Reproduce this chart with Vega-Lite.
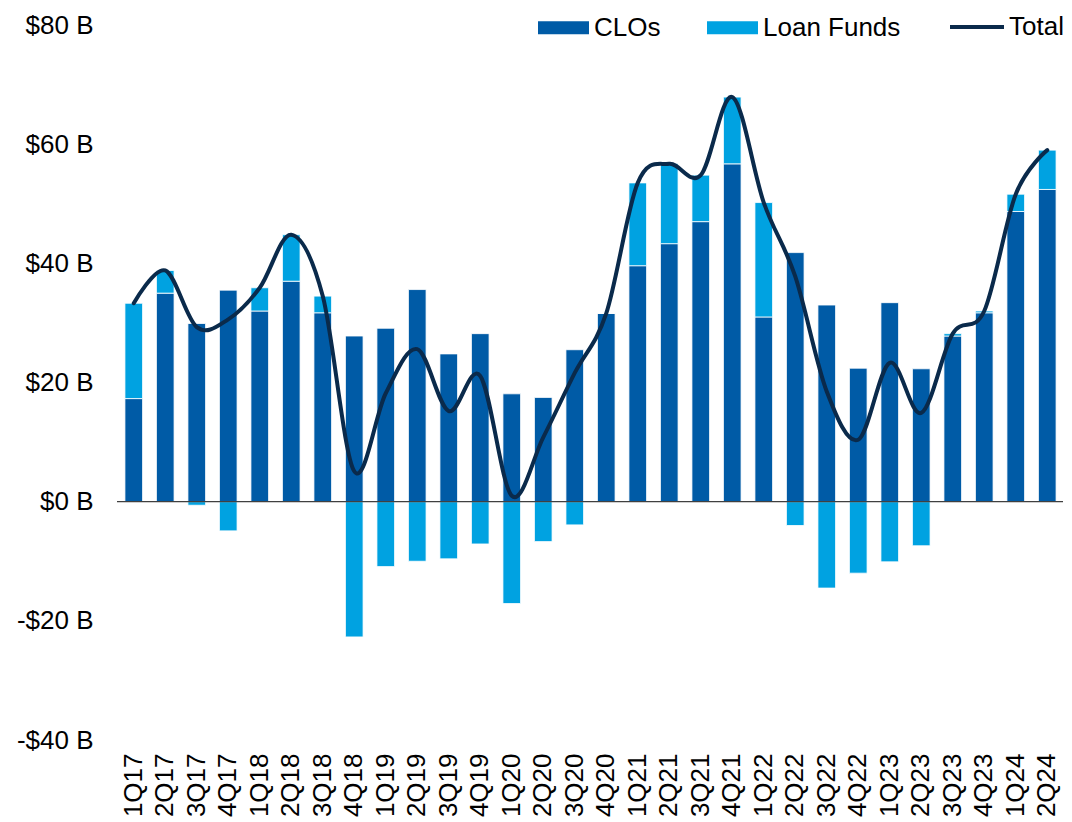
{
  "$schema": "https://vega.github.io/schema/vega-lite/v6.json",
  "width": 945,
  "height": 715,
  "autosize": {"type": "none"},
  "padding": {"left": 118, "top": 25, "right": 9, "bottom": 82},
  "background": "white",
  "config": {
    "view": {"stroke": null},
    "font": "Liberation Sans",
    "axis": {"labelFont": "Liberation Sans", "labelColor": "#000000", "labelFontSize": 26},
    "legend": {"labelFont": "Liberation Sans", "labelColor": "#000000", "labelFontSize": 26}
  },
  "datasets": {
    "bars": [
      {"q": "1Q17", "series": "CLOs", "value": 17.3}, {"q": "1Q17", "series": "Loan Funds", "value": 16.0},
      {"q": "2Q17", "series": "CLOs", "value": 35.0}, {"q": "2Q17", "series": "Loan Funds", "value": 3.8},
      {"q": "3Q17", "series": "CLOs", "value": 29.9}, {"q": "3Q17", "series": "Loan Funds", "value": -0.6},
      {"q": "4Q17", "series": "CLOs", "value": 35.5}, {"q": "4Q17", "series": "Loan Funds", "value": -4.9},
      {"q": "1Q18", "series": "CLOs", "value": 32.0}, {"q": "1Q18", "series": "Loan Funds", "value": 3.9},
      {"q": "2Q18", "series": "CLOs", "value": 37.0}, {"q": "2Q18", "series": "Loan Funds", "value": 7.8},
      {"q": "3Q18", "series": "CLOs", "value": 31.7}, {"q": "3Q18", "series": "Loan Funds", "value": 2.8},
      {"q": "4Q18", "series": "CLOs", "value": 27.8}, {"q": "4Q18", "series": "Loan Funds", "value": -22.7},
      {"q": "1Q19", "series": "CLOs", "value": 29.1}, {"q": "1Q19", "series": "Loan Funds", "value": -10.9},
      {"q": "2Q19", "series": "CLOs", "value": 35.6}, {"q": "2Q19", "series": "Loan Funds", "value": -10.0},
      {"q": "3Q19", "series": "CLOs", "value": 24.8}, {"q": "3Q19", "series": "Loan Funds", "value": -9.6},
      {"q": "4Q19", "series": "CLOs", "value": 28.2}, {"q": "4Q19", "series": "Loan Funds", "value": -7.1},
      {"q": "1Q20", "series": "CLOs", "value": 18.1}, {"q": "1Q20", "series": "Loan Funds", "value": -17.1},
      {"q": "2Q20", "series": "CLOs", "value": 17.5}, {"q": "2Q20", "series": "Loan Funds", "value": -6.7},
      {"q": "3Q20", "series": "CLOs", "value": 25.5}, {"q": "3Q20", "series": "Loan Funds", "value": -3.9},
      {"q": "4Q20", "series": "CLOs", "value": 31.6}, {"q": "4Q20", "series": "Loan Funds", "value": 0.0},
      {"q": "1Q21", "series": "CLOs", "value": 39.6}, {"q": "1Q21", "series": "Loan Funds", "value": 13.9},
      {"q": "2Q21", "series": "CLOs", "value": 43.3}, {"q": "2Q21", "series": "Loan Funds", "value": 13.4},
      {"q": "3Q21", "series": "CLOs", "value": 47.0}, {"q": "3Q21", "series": "Loan Funds", "value": 7.8},
      {"q": "4Q21", "series": "CLOs", "value": 56.7}, {"q": "4Q21", "series": "Loan Funds", "value": 11.2},
      {"q": "1Q22", "series": "CLOs", "value": 31.0}, {"q": "1Q22", "series": "Loan Funds", "value": 19.2},
      {"q": "2Q22", "series": "CLOs", "value": 41.8}, {"q": "2Q22", "series": "Loan Funds", "value": -4.0},
      {"q": "3Q22", "series": "CLOs", "value": 33.0}, {"q": "3Q22", "series": "Loan Funds", "value": -14.5},
      {"q": "4Q22", "series": "CLOs", "value": 22.4}, {"q": "4Q22", "series": "Loan Funds", "value": -12.0},
      {"q": "1Q23", "series": "CLOs", "value": 33.4}, {"q": "1Q23", "series": "Loan Funds", "value": -10.1},
      {"q": "2Q23", "series": "CLOs", "value": 22.3}, {"q": "2Q23", "series": "Loan Funds", "value": -7.4},
      {"q": "3Q23", "series": "CLOs", "value": 27.8}, {"q": "3Q23", "series": "Loan Funds", "value": 0.4},
      {"q": "4Q23", "series": "CLOs", "value": 31.7}, {"q": "4Q23", "series": "Loan Funds", "value": 0.3},
      {"q": "1Q24", "series": "CLOs", "value": 48.7}, {"q": "1Q24", "series": "Loan Funds", "value": 2.9},
      {"q": "2Q24", "series": "CLOs", "value": 52.4}, {"q": "2Q24", "series": "Loan Funds", "value": 6.6}
    ],
    "totals": [
      {"q": "1Q17", "series": "Total", "total": 33.3},
      {"q": "2Q17", "series": "Total", "total": 38.8},
      {"q": "3Q17", "series": "Total", "total": 29.3},
      {"q": "4Q17", "series": "Total", "total": 30.6},
      {"q": "1Q18", "series": "Total", "total": 35.9},
      {"q": "2Q18", "series": "Total", "total": 44.8},
      {"q": "3Q18", "series": "Total", "total": 34.5},
      {"q": "4Q18", "series": "Total", "total": 5.1},
      {"q": "1Q19", "series": "Total", "total": 18.2},
      {"q": "2Q19", "series": "Total", "total": 25.6},
      {"q": "3Q19", "series": "Total", "total": 15.2},
      {"q": "4Q19", "series": "Total", "total": 21.1},
      {"q": "1Q20", "series": "Total", "total": 1.0},
      {"q": "2Q20", "series": "Total", "total": 10.8},
      {"q": "3Q20", "series": "Total", "total": 21.6},
      {"q": "4Q20", "series": "Total", "total": 31.6},
      {"q": "1Q21", "series": "Total", "total": 53.5},
      {"q": "2Q21", "series": "Total", "total": 56.7},
      {"q": "3Q21", "series": "Total", "total": 54.8},
      {"q": "4Q21", "series": "Total", "total": 67.9},
      {"q": "1Q22", "series": "Total", "total": 50.2},
      {"q": "2Q22", "series": "Total", "total": 37.8},
      {"q": "3Q22", "series": "Total", "total": 18.5},
      {"q": "4Q22", "series": "Total", "total": 10.4},
      {"q": "1Q23", "series": "Total", "total": 23.3},
      {"q": "2Q23", "series": "Total", "total": 14.9},
      {"q": "3Q23", "series": "Total", "total": 28.2},
      {"q": "4Q23", "series": "Total", "total": 32.0},
      {"q": "1Q24", "series": "Total", "total": 51.6},
      {"q": "2Q24", "series": "Total", "total": 59.0}
    ]
  },
  "encoding": {
    "x": {
      "field": "q", "type": "nominal", "sort": null,
      "scale": {"paddingInner": 0.44, "paddingOuter": 0.22},
      "axis": {"title": null, "labelAngle": -90, "domain": false, "ticks": false, "tickSize": 0, "labelPadding": 13}
    }
  },
  "layer": [
    {
      "data": {"name": "bars"},
      "mark": {"type": "bar", "stroke": "white", "strokeWidth": 0.8},
      "encoding": {
        "y": {
          "field": "value", "type": "quantitative", "stack": "zero",
          "scale": {"domain": [-40, 80], "nice": false, "zero": false},
          "axis": {
            "title": null, "grid": false, "domain": false, "ticks": false, "tickSize": 0, "labelPadding": 25,
            "values": [-40, -20, 0, 20, 40, 60, 80],
            "labelExpr": "datum.value < 0 ? '-$' + abs(datum.value) + ' B' : '$' + datum.value + ' B'"
          }
        },
        "fill": {
          "field": "series", "type": "nominal",
          "scale": {"domain": ["CLOs", "Loan Funds"], "range": ["#005BA6", "#00A2E1"]},
          "legend": {
            "title": null, "orient": "none", "direction": "horizontal", "legendX": 420, "legendY": -23,
            "symbolType": "M-1,-0.255H1V0.255H-1Z", "symbolSize": 2601, "symbolStrokeWidth": 0,
            "labelOffset": 5, "columnPadding": 46
          }
        },
        "order": {"field": "series", "type": "nominal", "sort": "ascending"}
      }
    },
    {
      "data": {"values": [{"zero": 0}]},
      "mark": {"type": "rule", "color": "#404040", "strokeWidth": 1.2},
      "encoding": {"y": {"field": "zero", "type": "quantitative"}, "x": {"value": -1}, "x2": {"value": 945}}
    },
    {
      "data": {"name": "totals"},
      "mark": {"type": "line", "interpolate": "cardinal", "strokeWidth": 4, "strokeCap": "round"},
      "encoding": {
        "y": {"field": "total", "type": "quantitative"},
        "stroke": {
          "field": "series", "type": "nominal",
          "scale": {"domain": ["Total"], "range": ["#0A2A4B"]},
          "legend": {
            "title": null, "orient": "none", "legendX": 830, "legendY": -27,
            "symbolType": "stroke", "symbolSize": 2916, "symbolStrokeWidth": 4,
            "labelOffset": 3
          }
        }
      }
    }
  ]
}
